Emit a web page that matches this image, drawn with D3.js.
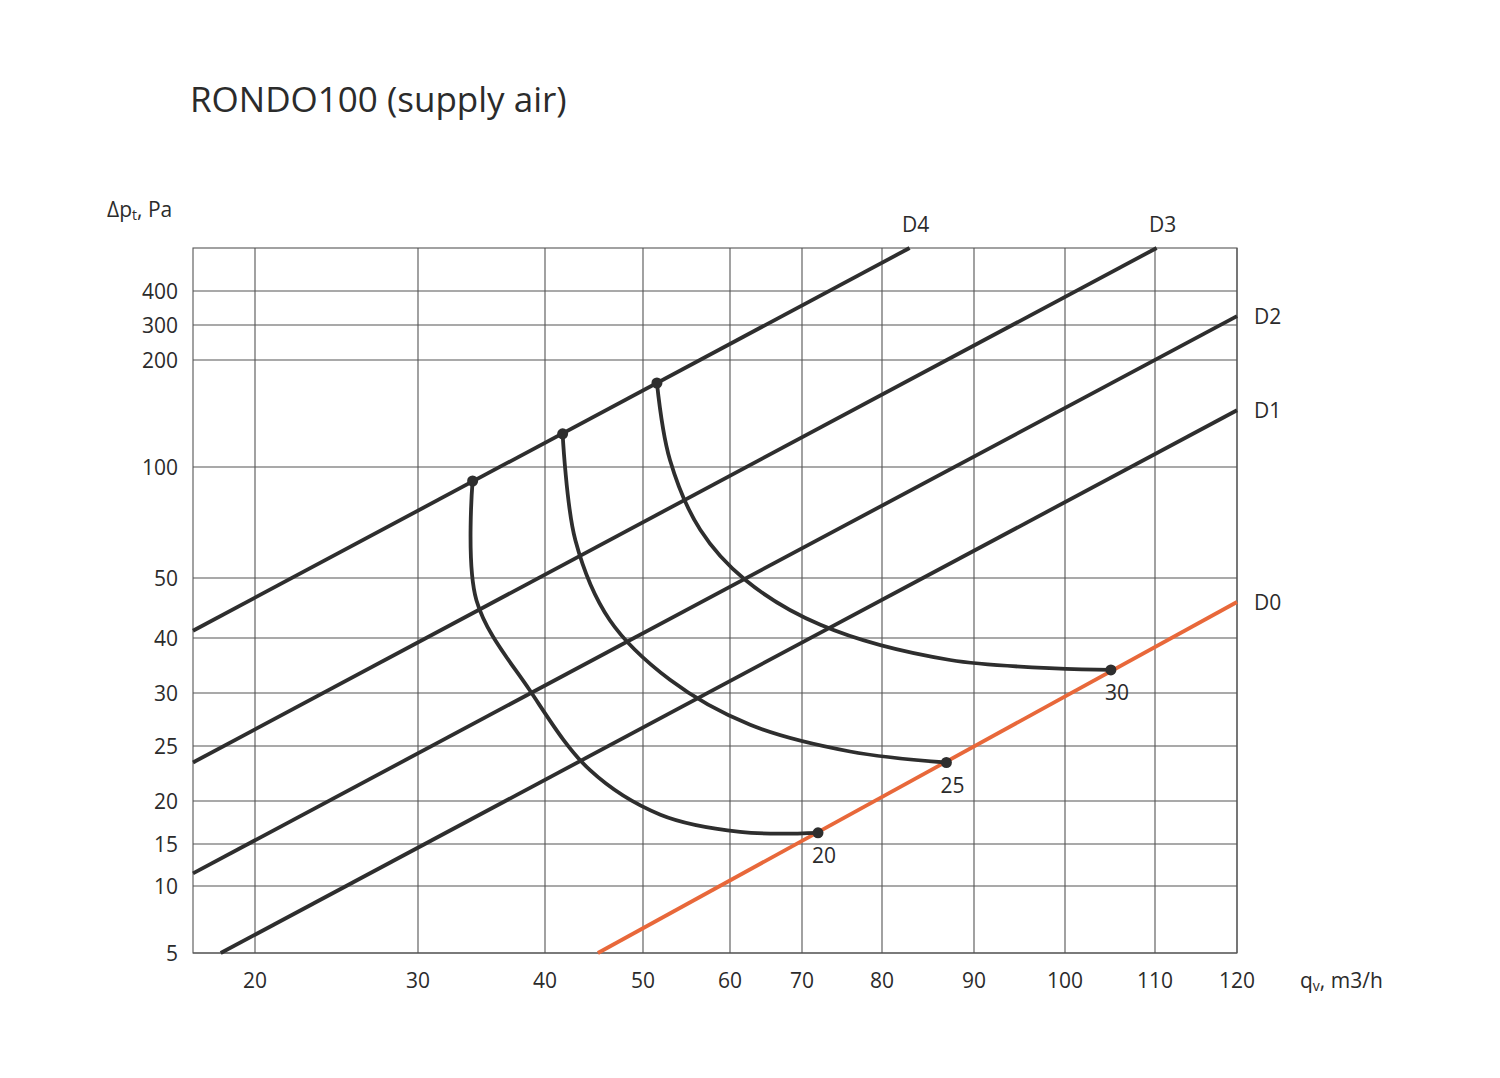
<!DOCTYPE html>
<html><head><meta charset="utf-8">
<script src="https://cdn.jsdelivr.net/npm/d3@7"></script>
<style>body{margin:0;background:#fff}text{font-family:"Open Sans","DejaVu Sans",sans-serif;fill:#2b2b2b}</style>
</head><body>
<svg id="c" width="1500" height="1078"></svg>
<script>
// chart data
var xTicks = [20, 30, 40, 50, 60, 70, 80, 90, 100, 110, 120];
var yTicks = [5, 10, 15, 20, 25, 30, 40, 50, 100, 200, 300, 400];
// nonuniform axes from the diagram
var xDomain = [16.2, 20, 30, 40, 50, 60, 70, 80, 90, 100, 110, 120];
var xRange  = [193, 255, 418, 545, 643, 730, 802, 882, 974, 1065, 1155, 1237];
var yDomain = [5, 10, 15, 20, 25, 30, 40, 50, 100, 200, 300, 400, 526];
var yRange  = [953, 886, 844, 801, 746, 693, 638, 578, 467, 360, 325, 291, 248];

var dLines = [
  {name: 'D4', pts: [[16.2, 41.2], [83, 526]]},
  {name: 'D3', pts: [[16.2, 23.5], [110.2, 526]]},
  {name: 'D2', pts: [[16.2, 11.5], [120, 326]]},
  {name: 'D1', pts: [[17.9, 5], [120, 153]]},
  {name: 'D0', pts: [[45.4, 5], [120, 46]]}
];
var curves = [
  {name: '20', pts: [[34.3, 93.7], [34.6, 46.3], [38.8, 30.5], [44.6, 22.8], [52.0, 18.4], [61.4, 16.4], [72, 16.3]]},
  {name: '25', pts: [[41.8, 131], [43.1, 67], [46.6, 43], [53.1, 32.4], [62.8, 27.0], [76, 24.5], [87, 23.5]]},
  {name: '30', pts: [[51.6, 178.5], [53.1, 106.5], [56.6, 71.6], [62.1, 49.7], [72.3, 42.2], [87.4, 36], [105.1, 34.2]]}
];

var svg = d3.select('#c');
var x = d3.scaleLinear().domain(xDomain).range(xRange);
var y = d3.scaleLinear().domain(yDomain).range(yRange);
var dark = '#2e2e2e', orange = '#e8683a';

svg.append('text').attr('x', 190).attr('y', 112).attr('font-size', 35).text('RONDO100 (supply air)');

// grid
var g = svg.append('g').attr('stroke', '#555').attr('stroke-width', 1.1);
g.selectAll('.vx').data(xTicks).join('line')
  .attr('x1', d => x(d)).attr('x2', d => x(d)).attr('y1', 248).attr('y2', 953);
g.selectAll('.hy').data(yTicks).join('line')
  .attr('x1', 193).attr('x2', 1237).attr('y1', d => y(d)).attr('y2', d => y(d));
g.append('rect').attr('x', 193).attr('y', 248).attr('width', 1237 - 193).attr('height', 953 - 248).attr('fill', 'none');

svg.selectAll('.xl').data(xTicks).join('text')
  .attr('x', d => x(d)).attr('y', 988).attr('text-anchor', 'middle').attr('font-size', 21).text(d => d);
svg.selectAll('.yl').data(yTicks).join('text')
  .attr('x', 178).attr('y', d => y(d) + 8).attr('text-anchor', 'end').attr('font-size', 21).text(d => d);

var yl = svg.append('text').attr('x', 107).attr('y', 217).attr('font-size', 21);
yl.append('tspan').text('Δp');
yl.append('tspan').attr('font-size', 14).attr('dy', 3).text('t');
yl.append('tspan').attr('dy', -3).text(', Pa');
var xl = svg.append('text').attr('x', 1300).attr('y', 988).attr('font-size', 21);
xl.append('tspan').text('q');
xl.append('tspan').attr('font-size', 14).attr('dy', 3).text('v');
xl.append('tspan').attr('dy', -3).text(', m3/h');

var line = d3.line().x(d => x(d[0])).y(d => y(d[1]));
dLines.forEach(function(l) {
  svg.append('path').attr('d', line(l.pts)).attr('fill', 'none')
    .attr('stroke', l.name == 'D0' ? orange : dark).attr('stroke-width', 3.8);
  var e = l.pts[1];
  var top = y(e[1]) < 250;
  svg.append('text').attr('x', top ? x(e[0]) + 6 : 1254).attr('y', top ? 232 : y(e[1]) + 8)
    .attr('text-anchor', top ? 'middle' : 'start').attr('font-size', 21).text(l.name);
});

var curve = d3.line().x(d => x(d[0])).y(d => y(d[1])).curve(d3.curveCatmullRom);
curves.forEach(function(c) {
  svg.append('path').attr('d', curve(c.pts)).attr('fill', 'none').attr('stroke', dark).attr('stroke-width', 3.8);
  [c.pts[0], c.pts[c.pts.length - 1]].forEach(function(p) {
    svg.append('circle').attr('cx', x(p[0])).attr('cy', y(p[1])).attr('r', 5.5).attr('fill', dark);
  });
  var e = c.pts[c.pts.length - 1];
  svg.append('text').attr('x', x(e[0]) - 6).attr('y', y(e[1]) + 30).attr('font-size', 21).text(c.name);
});
</script>
</body></html>
